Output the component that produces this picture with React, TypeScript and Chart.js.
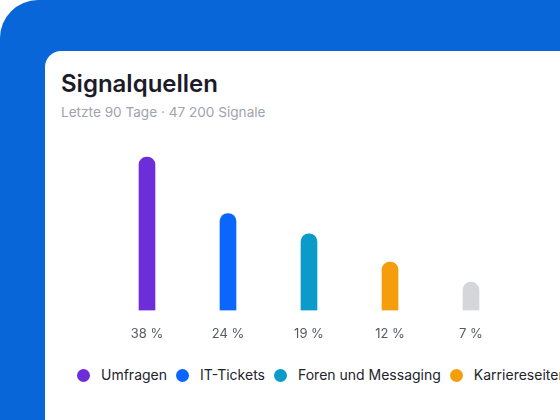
import React, { useEffect, useRef } from "react";
import { Chart, registerables } from "chart.js";

Chart.register(...registerables);

const categories = ["Umfragen", "IT-Tickets", "Foren und Messaging", "Karriereseiten", "Sonstige"];
const shares = [38, 24, 19, 12, 7];
const colors = ["#6D2ED9", "#0A66FF", "#0A9BC9", "#F59E0B", "#D4D6DA"];
const title = "Signalquellen";
const subtitle = "Letzte 90 Tage · 47 200 Signale";

const FONT = "Inter, 'Noto Sans', sans-serif";

export default function App() {
  const ref = useRef<HTMLCanvasElement>(null);

  useEffect(() => {
    if (!ref.current) return;
    const chart = new Chart(ref.current, {
      type: "bar",
      data: {
        labels: categories,
        datasets: [
          {
            data: shares,
            backgroundColor: colors,
            barThickness: 16,
            borderRadius: 8,
            borderSkipped: "start",
          },
        ],
      },
      options: {
        animation: false,
        responsive: true,
        maintainAspectRatio: false,
        layout: { padding: { left: 45.5, right: 48.5, top: 9, bottom: 8 } },
        plugins: { legend: { display: false }, tooltip: { enabled: false } },
        scales: {
          y: { display: false, min: 0, max: 40 },
          x: {
            grid: { display: false, drawTicks: false },
            border: { display: false },
            ticks: {
              padding: 16,
              color: "#555A64",
              font: { family: FONT, size: 13 },
              callback: (_v: any, i: number) => `${shares[i]} %`,
            },
          },
        },
      },
    });
    return () => chart.destroy();
  }, []);

  return (
    <div
      style={{
        position: "fixed",
        left: 0,
        top: 0,
        width: 560,
        height: 420,
        overflow: "hidden",
        background: "#ffffff",
        fontFamily: FONT,
      }}
    >
      <div
        style={{
          position: "absolute",
          left: 0,
          top: 0,
          width: 800,
          height: 700,
          background: "#0866D8",
          borderTopLeftRadius: 38,
        }}
      />
      <div
        style={{
          position: "absolute",
          left: 45,
          top: 51,
          width: 800,
          height: 700,
          background: "#ffffff",
          borderRadius: 16,
        }}
      />
      <div
        style={{
          position: "absolute",
          left: 61,
          top: 69,
          fontSize: 24,
          lineHeight: "29px",
          fontWeight: 600,
          color: "#1B1B2A",
          whiteSpace: "nowrap",
        }}
      >
        {title}
      </div>
      <div
        style={{
          position: "absolute",
          left: 61,
          top: 104,
          fontSize: 13.6,
          lineHeight: "17px",
          color: "#9EA3AD",
          whiteSpace: "nowrap",
        }}
      >
        {subtitle}
      </div>
      <div style={{ position: "absolute", left: 61, top: 140, width: 499, height: 226 }}>
        <canvas ref={ref} />
      </div>
      <div
        style={{
          position: "absolute",
          left: 77,
          top: 366,
          display: "flex",
          alignItems: "center",
          gap: 9,
          whiteSpace: "nowrap",
        }}
      >
        {categories.map((c, i) => (
          <div key={c} style={{ display: "flex", alignItems: "center", gap: 11 }}>
            <span
              style={{
                width: 13,
                height: 13,
                borderRadius: "50%",
                background: colors[i],
                display: "inline-block",
              }}
            />
            <span style={{ fontSize: 14, lineHeight: "18px", color: "#22242C" }}>{c}</span>
          </div>
        ))}
      </div>
    </div>
  );
}
